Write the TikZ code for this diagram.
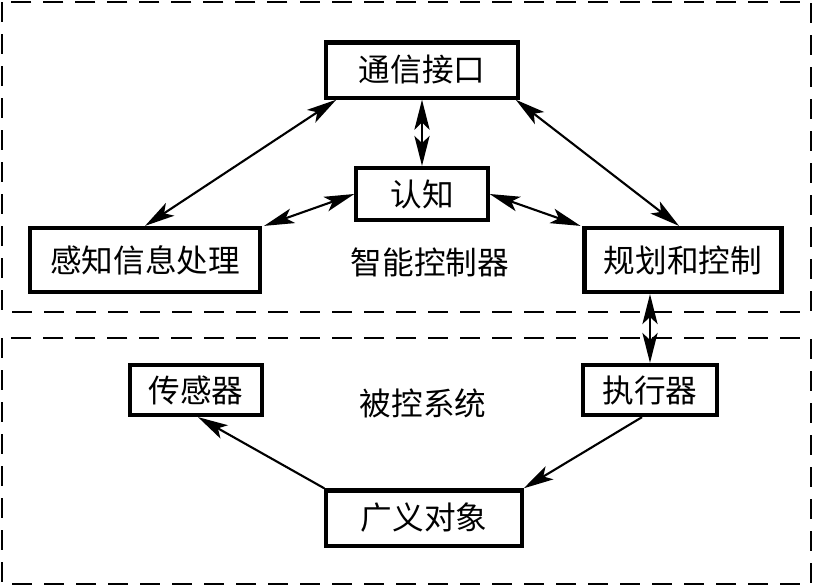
\documentclass[tikz,border=0pt]{standalone}
\usepackage{fontspec}
\setmainfont{Noto Sans CJK SC}
\usetikzlibrary{arrows.meta, positioning, calc}
\tikzset{
  blockbox/.style={
    draw=black, line width=3pt, fill=white,
    minimum height=#1, inner sep=0pt,
    font=\fontsize{22.5}{26}\selectfont,
  },
  blockbox/.default=1.4cm,
  dashframe/.style={draw=black, line width=1.8pt, dash pattern=on 0.5cm off 0.3cm},
  arw/.style={-{Stealth[length=0.75cm, width=0.38cm, inset=0.18cm]}, line width=1.5pt},
  dblarw/.style={{Stealth[length=0.75cm, width=0.38cm, inset=0.18cm]}-{Stealth[length=0.75cm, width=0.38cm, inset=0.18cm]}, line width=1.5pt},
  labeltext/.style={font=\fontsize{22.5}{26}\selectfont},
}
\begin{document}
\begin{tikzpicture}[x=0.025cm, y=-0.025cm]
  \useasboundingbox (0,0) rectangle (813,586);

  % Two dashed frames
  \draw[dashframe] (2,2) rectangle (811,312);
  \draw[dashframe] (2,338) rectangle (811,584);

  % Intelligent controller
  \node[blockbox=1.38cm, minimum width=4.78cm] (tx) at (422,70) {通信接口};
  \node[blockbox=1.3cm, minimum width=3.28cm] (rz) at (422,194) {认知};
  \node[blockbox=1.6cm, minimum width=5.75cm] (gz) at (145,260) {感知信息处理};
  \node[blockbox=1.6cm, minimum width=4.92cm] (gh) at (683,260) {规划和控制};
  \node[labeltext] (zn) at (430,262) {智能控制器};

  % Controlled system
  \node[blockbox=1.25cm, minimum width=3.3cm] (cg) at (196,390) {传感器};
  \node[blockbox=1.25cm, minimum width=3.35cm] (zx) at (650,390) {执行器};
  \node[blockbox=1.38cm, minimum width=4.88cm] (gy) at (424,518) {广义对象};
  \node[labeltext] (bk) at (423,403) {被控系统};

  % Connections
  \draw[dblarw] ($(tx.south west)+(12,0)$) -- (gz.north);
  \draw[dblarw] ($(tx.south east)+(-4,0)$) -- ($(gh.north)+(-4,0)$);
  \draw[dblarw] (tx.south) -- (rz.north);
  \draw[dblarw] (rz.west) -- ($(gz.north east)+(2,0)$);
  \draw[dblarw] (rz.east) -- ($(gh.north west)+(-2,0)$);
  \draw[dblarw] (gh.south -| zx.north) -- (zx.north);
  \draw[arw] ($(zx.south)+(-8,0)$) -- (gy.north east);
  \draw[arw] (gy.north west) -- ($(cg.south)+(2,0)$);
\end{tikzpicture}
\end{document}
